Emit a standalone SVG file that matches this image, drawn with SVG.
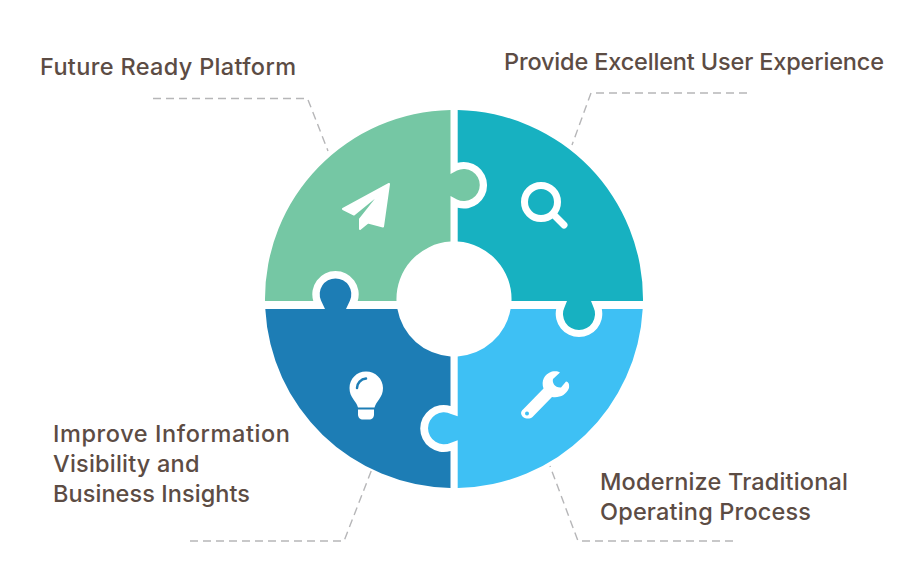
<svg xmlns="http://www.w3.org/2000/svg" width="903" height="561" viewBox="0 0 903 561">
<style>
.lbl{font-family:"Inter","Open Sans","Liberation Sans",sans-serif;font-size:23.500px;font-weight:450;fill:#5c4c44}
.conn{fill:none;stroke:#b6b6b8;stroke-width:1.4;stroke-dasharray:8 5}
.ico{fill:#fff}
.icl{fill:none;stroke:#fff;stroke-linecap:round;stroke-linejoin:round}
</style>
<rect width="903" height="561" fill="#fff"/>
<g id="connectors">
<path class="conn" d="M153,98.5H307.5L328,151"/>
<path class="conn" d="M747,93H591L572,145"/>
<path class="conn" d="M190,541H344L372,469"/>
<path class="conn" d="M733,541H578L550,466"/>
</g>
<g id="node-future-ready">
<path fill="#75c7a4" d="M265,301A189,189 0 0 1 450.5,110V174L457,170.5A16,16 0 1 1 457,199.5L450.5,196V241.6A57.5,57.5 0 0 0 396.5,301H357.7A23.2,23.2 0 1 0 313.3,301Z"/>
<path class="ico" stroke="#fff" stroke-width="2" stroke-linejoin="round" d="M389,184L343,209L354,214.500L381,192.500L360,219V229L368,222.500L383,226.500Z"/>
<text class="lbl" x="40" y="75" textLength="256">Future Ready Platform</text>
</g>
<g id="node-user-experience">
<path fill="#17b1c1" d="M457.700,110A189,189 0 0 1 643,301H591L593.500,307.300A16,16 0 1 1 564.500,307.300L567,301H511.500A57.5,57.5 0 0 0 457.700,241.600V207.800A23.3,23.3 0 1 0 457.700,162.800Z"/>
<circle cx="541" cy="202" r="16.500" fill="none" stroke="#fff" stroke-width="7"/>
<path class="icl" stroke-width="7" d="M555,216L564,225"/>
<text class="lbl" x="504" y="70" textLength="380">Provide Excellent User Experience</text>
</g>
<g id="node-modernize">
<path fill="#3ec0f4" d="M510.600,309H556.200A23.3,23.3 0 1 0 601.800,309H642.700A189,189 0 0 1 457.700,488V440.300L451,442.700A16,16 0 1 1 451,413.900L457.700,416.300V356.400A57.5,57.5 0 0 0 510.600,309Z"/>
<path class="ico" d="M523,409.500L543.500,388.500C541,381 544,374 552,371.500C555,371 558,371 560,372.500L553,379C552,383 555,388 561,387.500L566,381.500C569,382 569.500,385 569,388C566,395 560,398 552,397L532.500,417C530,419 526,419 523,417C520.500,414.500 520.500,411.500 523,409.500Z"/>
<circle cx="527" cy="413.500" r="2" fill="#3ec0f4"/>
<text class="lbl" x="600" y="490" textLength="248">Modernize Traditional</text>
<text class="lbl" x="600" y="520" textLength="211">Operating Process</text>
</g>
<g id="node-business-insights">
<path fill="#1d7db5" d="M265.300,309H325L321,300.500A15.800,15.800 0 1 1 350,300.500L346,309H397.400A57.5,57.5 0 0 0 450.500,356.400V406A23.5,23.5 0 1 0 450.500,451V488A189,189 0 0 1 265.300,309Z"/>
<path class="ico" d="M366,371.500C375.500,371.500 383,379 383,388C383,392.500 381.500,396 379,399.500C377,402 375.500,404.500 374.500,407.500H358C357,404.500 355.500,402 353.500,399.500C351,396 349.500,392.500 349.500,388C349.500,379 356.500,371.500 366,371.500Z"/>
<path class="ico" d="M358,409.500H374V414.500C374,417.500 372,419.500 369,419.500H363C360,419.500 358,417.500 358,414.500Z"/>
<path fill="none" stroke="#1d7db5" stroke-width="2.500" stroke-linecap="round" d="M357,388C357,383 361,379 366,378.500"/>
<text class="lbl" x="53" y="441.500" textLength="237">Improve Information</text>
<text class="lbl" x="53" y="471.500" textLength="146.500">Visibility and</text>
<text class="lbl" x="53" y="501.500" textLength="197">Business Insights</text>
</g>
</svg>
